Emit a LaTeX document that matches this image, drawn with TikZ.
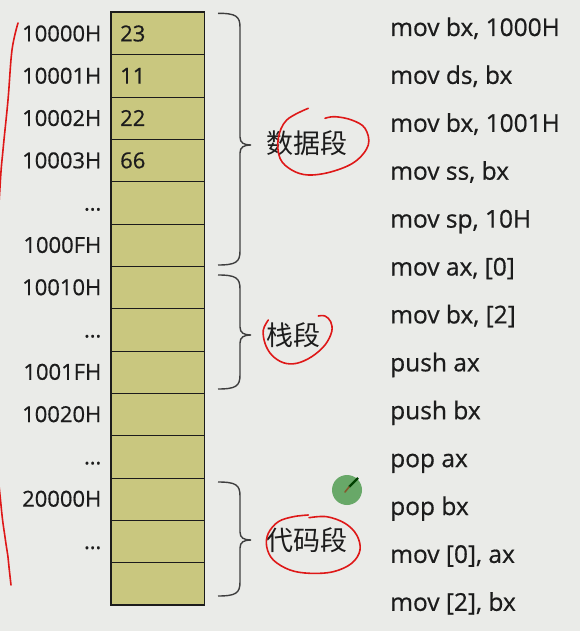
\documentclass[tikz,border=0pt]{standalone}
\usepackage{fontspec}
\setmainfont{Open Sans}
\newfontfamily\heavysans{Open Sans}[FakeBold=0.6]
\newfontfamily\cjk{Noto Sans CJK SC}
\usetikzlibrary{positioning}
\definecolor{bg}{RGB}{234,235,232}
\definecolor{cellfill}{RGB}{201,199,127}
\definecolor{ink}{RGB}{28,28,28}
\definecolor{pen}{RGB}{222,24,24}
\definecolor{dot}{RGB}{104,168,104}
\begin{document}
\begin{tikzpicture}[x=1pt,y=-1pt,
  cell/.style={draw=ink,fill=cellfill,line width=1pt,minimum width=93pt,minimum height=42.3pt,inner sep=0pt},
  addr/.style={font=\heavysans\fontsize{22}{24}\selectfont,text=ink,inner sep=0pt,text height=15pt,text depth=0pt},
  instr/.style={font=\heavysans\fontsize{24.5}{26}\selectfont,text=ink,inner sep=0pt,anchor=base west},
  seg/.style={draw=ink!85,line width=1.4pt},
  seglabel/.style={font=\cjk\fontsize{27}{29}\selectfont,text=ink,inner sep=0pt},
  redpen/.style={draw=pen,line width=1.6pt,line cap=round,line join=round}]
  % 背景
  \fill[bg] (0,0) rectangle (580,631);
  \useasboundingbox (0,0) rectangle (580,631);
  % 内存单元
  \foreach \i in {0,...,13}
    \node[cell] (c\i) at (157.5,{33.85+42.3*\i}) {};
  \draw[ink,line width=1.5pt] (c0.north west) rectangle (c13.south east);
  % 地址
  \foreach \i/\a in {0/10000H,1/10001H,2/10002H,3/10003H,4/\ldots,5/1000FH,6/10010H,
                     7/\ldots,8/1001FH,9/10020H,10/\ldots,11/20000H,12/\ldots}
    \node[addr,left=9pt of c\i] (a\i) {\a};
  % 数据
  \foreach \i/\v in {0/23,1/11,2/22,3/66}
    \node[addr,anchor=west] (v\i) at ([xshift=9.5pt]c\i.west) {\v};
  % 指令
  \foreach \t [count=\k from 0] in {{mov bx, 1000H},{mov ds, bx},{mov bx, 1001H},{mov ss, bx},
      {mov sp, 10H},{mov ax, [0]},{mov bx, [2]},{push ax},{push bx},{pop ax},{pop bx},
      {mov [0], ax},{mov [2], bx}}
    \node[instr] (p\k) at (390,{36+47.9*\k}) {\t};
  % 段括号
  \foreach \ya/\ym/\yb/\n in {13.3/145/265/A,275/335/389/B,482/540/596/C} {
    \draw[seg] (218,\ya) .. controls (236,\ya) and (240,\ya+3) .. (240,\ya+14)
      -- (240,\ym-8) .. controls (240,\ym-2) and (244,\ym) .. (251,\ym)
      .. controls (244,\ym) and (240,\ym+2) .. (240,\ym+8)
      -- (240,\yb-14) .. controls (240,\yb-3) and (236,\yb) .. (218,\yb);
    \coordinate (tip\n) at (251,\ym);
  }
  \node[seglabel,right=15pt of tipA,yshift=2pt] (dataseg) {数据段};
  \node[seglabel,right=15pt of tipB] (stackseg) {栈段};
  \node[seglabel,right=15pt of tipC] (codeseg) {代码段};
  % 红笔圈注
  \begin{scope}
    \clip (0,0) rectangle (580,631);
    \draw[redpen] plot[smooth,tension=0.6] coordinates {(18,23) (12,50) (8,100) (3,150)
      (0,187) (-6,300) (-6,420) (1,505) (5,537) (8,557) (9,567) (11,585)};
  \end{scope}
  \draw[redpen] plot[smooth,tension=0.6] coordinates {(308.3,108.3) (286.7,120) (278.3,138.3)
    (280,158.3) (291.7,170) (308.3,175) (331.7,171.7) (355,161.7) (368.3,145) (365,128.3)
    (351.7,120) (335,116.7) (325,118.3)};
  \draw[redpen] plot[smooth,tension=0.6] coordinates {(268.3,320) (263.3,330) (265,343.3)
    (271.7,355) (283.3,362.7) (296.7,363.3) (311.7,356.7) (325,345) (331.7,331.7)
    (330.7,321.7) (325,316) (318.3,316)};
  \draw[redpen] plot[smooth,tension=0.6] coordinates {(308.3,515) (293.3,516.7) (278.3,521.7)
    (268.3,533.3) (266.7,546.7) (273.3,560) (290,570) (310,573.3) (333.3,571.7) (351.7,563.3)
    (360,550) (356.7,535) (345,523.3) (326.7,516.7) (309,517.7)};
  % 光标
  \fill[dot] (347,490) circle (15);
  \draw[green!25!black,line width=2.2pt] (358,478) -- (349,487);
  \draw[brown!70!black,line width=1.6pt,line cap=round] (349,487) -- (345,492);
\end{tikzpicture}
\end{document}
